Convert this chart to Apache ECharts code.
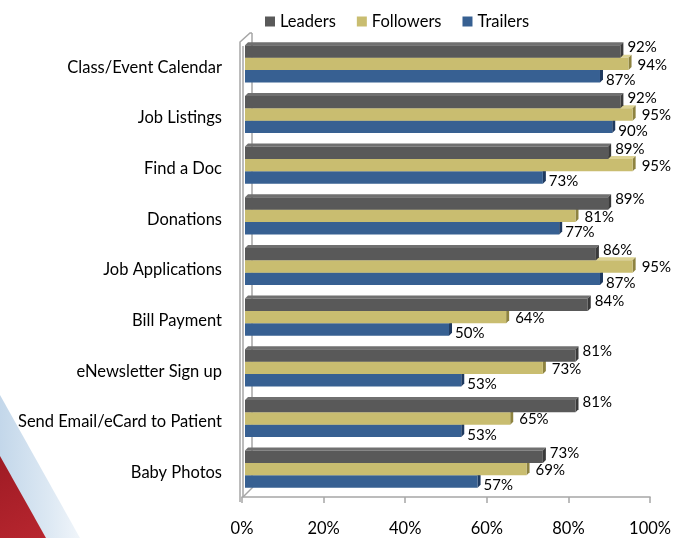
<!DOCTYPE html>
<html>
<head>
<meta charset="utf-8">
<script src="https://cdn.jsdelivr.net/npm/echarts@6/dist/echarts.min.js"></script>
<style>
  html, body { margin: 0; padding: 0; background: #fff; }
  #chart { width: 674px; height: 538px; }
</style>
</head>
<body>
<div id="chart"></div>
<script>
// Website feature adoption by hospital group
const categories = [
  'Class/Event Calendar', 'Job Listings', 'Find a Doc', 'Donations',
  'Job Applications', 'Bill Payment', 'eNewsletter Sign up',
  'Send Email/eCard to Patient', 'Baby Photos'
];
const seriesNames = ['Leaders', 'Followers', 'Trailers'];
const leaders   = [92, 92, 89, 89, 86, 84, 81, 81, 73];
const followers = [94, 95, 95, 81, 95, 64, 73, 65, 69];
const trailers  = [87, 90, 73, 77, 87, 50, 53, 53, 57];
const xTicks = [0, 20, 40, 60, 80, 100];

// face colours: front, top, side
const palette = [
  { front: '#595959', top: '#707070', side: '#3a3a3a' },
  { front: '#C9BD70', top: '#DDD394', side: '#8E8340' },
  { front: '#376092', top: '#5A80B0', side: '#1F3A60' }
];
// value-label nudges per series so the three labels of a group don't collide
const labelNudge = [[4, -4], [6, 1], [3, 4]];

const FONT = 'Lato, "Open Sans", sans-serif';
const GRID = { left: 242, top: 37, width: 410, height: 456 };
const SHIFT = 3;   // front face offset from the wall
const DEPTH = 3;   // extrusion depth of each bar

function makeRender(k) {
  return function (params, api) {
    const v = api.value(0);
    const i = api.value(1);
    const p0 = api.coord([0, i]);
    const p1 = api.coord([v, i]);
    const band = api.size([0, 1])[1];
    const barH = band * 0.245;
    const groupTop = p0[1] - 1.5 * barH + 1.5;
    const yTop = groupTop + k * barH;
    const yBot = yTop + barH;
    const x0 = p0[0] + SHIFT;
    const x1 = p1[0] + SHIFT;
    const c = palette[k];
    const nudge = labelNudge[k];
    return {
      type: 'group',
      children: [
        { type: 'polygon', shape: { points: [[x0, yTop], [x0 + DEPTH, yTop - DEPTH], [x1 + DEPTH, yTop - DEPTH], [x1, yTop]] },
          style: { fill: c.top } },
        { type: 'polygon', shape: { points: [[x1, yTop], [x1 + DEPTH, yTop - DEPTH], [x1 + DEPTH, yBot - DEPTH], [x1, yBot]] },
          style: { fill: c.side } },
        { type: 'rect', shape: { x: x0, y: yTop, width: x1 - x0, height: barH },
          style: { fill: c.front } },
        { type: 'text', x: x1 + DEPTH + nudge[0], y: (yTop + yBot) / 2 + nudge[1],
          style: { text: v + '%', fill: '#000', font: '15px ' + FONT, align: 'left', verticalAlign: 'middle' } }
      ]
    };
  };
}

const values = [leaders, followers, trailers];
const series = values.map((arr, k) => ({
  name: seriesNames[k],
  type: 'custom',
  renderItem: makeRender(k),
  encode: { x: 0, y: 1 },
  itemStyle: { color: palette[k].front },
  z: 10 - k,
  data: arr.map((v, i) => [v, i])
}));

// wall outline and decorative corner swoosh
const gx = GRID.left, gt = GRID.top, gb = GRID.top + GRID.height;
const wallColor = '#A6A6A6';
const graphic = [
  { type: 'polygon', z: -10, shape: { points: [[0, 395], [0, 462], [46, 538], [80, 538]] },
    style: { fill: { type: 'linear', x: 0, y: 0, x2: 1, y2: 0, colorStops: [
      { offset: 0, color: '#C3D7EA' }, { offset: 0.6, color: '#DCE8F3' }, { offset: 1, color: '#F0F5FA' }] } } },
  { type: 'polygon', z: -9, shape: { points: [[0, 456], [0, 538], [46, 538]] },
    style: { fill: { type: 'linear', x: 0, y: 0, x2: 1, y2: 1, colorStops: [
      { offset: 0, color: '#9E1B24' }, { offset: 1, color: '#B8262F' }] } } },
  { type: 'polyline', z: 1, shape: { points: [[gx - 2, gb + 9], [gx - 2, gt + 5], [gx + 8, gt - 4], [gx + 10, gt - 4]] },
    style: { stroke: wallColor, lineWidth: 1.5, fill: null } },
  { type: 'polyline', z: 1, shape: { points: [[gx + 1, gb + 4], [gx + 1, gt + 9]] },
    style: { stroke: wallColor, lineWidth: 1.5, fill: null } },
  { type: 'line', z: 1, shape: { x1: gx + 10, y1: gt - 4, x2: gx + 10, y2: gb - 6 },
    style: { stroke: wallColor, lineWidth: 1.5 } },
  { type: 'line', z: 1, shape: { x1: gx + 1, y1: gb + 4, x2: gx + 11, y2: gb - 6 },
    style: { stroke: wallColor, lineWidth: 1.5 } }
];

const chart = echarts.init(document.getElementById('chart'), null, { renderer: 'canvas' });
chart.setOption({
  backgroundColor: '#ffffff',
  animation: false,
  textStyle: { fontFamily: FONT },
  legend: {
    data: seriesNames,
    left: 260, top: 8,
    itemWidth: 10, itemHeight: 10, itemGap: 21,
    icon: 'rect',
    textStyle: { fontSize: 16.5, color: '#000', fontFamily: FONT }
  },
  grid: GRID,
  xAxis: {
    type: 'value', min: xTicks[0], max: xTicks[xTicks.length - 1], interval: 20,
    offset: 4,
    axisLine: { show: true, lineStyle: { color: wallColor, width: 1.5 } },
    axisTick: { show: true, length: 6, lineStyle: { color: wallColor, width: 1.5 } },
    splitLine: { show: false },
    axisLabel: { formatter: '{value}%', fontSize: 16.5, color: '#000', margin: 23, fontFamily: FONT }
  },
  yAxis: {
    type: 'category', data: categories, inverse: true,
    axisLine: { show: false }, axisTick: { show: false },
    axisLabel: {
      margin: 20,
      formatter: function (v) { return '{c|' + v + '}'; },
      rich: { c: { fontSize: 16.5, color: '#000', fontFamily: FONT, padding: [10, 0, 0, 0] } }
    }
  },
  graphic: graphic,
  series: series
});
</script>
</body>
</html>
